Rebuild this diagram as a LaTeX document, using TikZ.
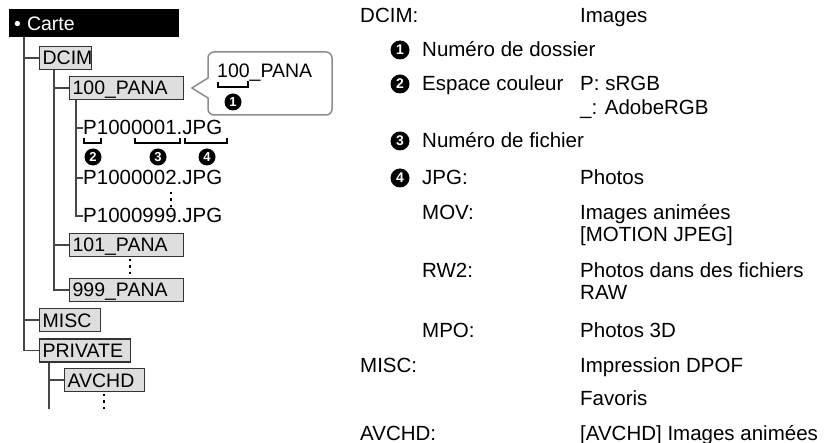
\documentclass[tikz,border=0pt]{standalone}
\usepackage{fontspec}
\setmainfont{Liberation Sans}
\newcommand\bxtext[2]{\makebox[#1][l]{\hspace{3pt}#2}}
\begin{document}
\begin{tikzpicture}[x=1pt,y=-1pt,
  tline/.style={draw=black!72, line width=1.4pt},
  fbox/.style={draw=black!80, fill=black!13, line width=1.2pt, inner sep=0pt,
    minimum height=23pt, anchor=west, text height=14pt, text depth=0pt,
    font=\fontsize{19.5}{20}\selectfont},
  ftxt/.style={anchor=base west, inner sep=0pt, font=\fontsize{20.5}{22}\selectfont},
  ctxt/.style={anchor=base west, inner sep=0pt, font=\fontsize{19.5}{20}\selectfont},
  rt/.style={anchor=base west, inner sep=0pt, font=\fontsize{20.5}{22}\selectfont},
  brk/.style={draw=black, line width=1.5pt},
  numS/.style={circle, fill=black, text=white, inner sep=0pt, minimum size=17pt,
    font=\bfseries\fontsize{13}{13}\selectfont},
  numL/.style={circle, fill=black, text=white, inner sep=0pt, minimum size=19pt,
    font=\bfseries\fontsize{14}{14}\selectfont},
  callout/.style={draw=black!45, fill=white, line width=1.5pt},
  dotsq/.style={fill=black}
]
\useasboundingbox (0,0) rectangle (829,443);

% ---------- tree ----------
\node[fill=black, text=white, inner sep=0pt, minimum height=28pt, anchor=north west,
  font=\fontsize{19.5}{20}\selectfont, text height=14pt, text depth=0pt] (carte) at (9,9)
  {\makebox[170pt][l]{\hspace{5pt}•\hspace{6pt}Carte}};

\node[fbox] (dcim)  at (39,58)    {\bxtext{52pt}{DCIM}};
\node[fbox] (p100)  at (69,88)    {\bxtext{114pt}{100\_PANA}};
\node[ftxt] (f1)    at (83,135)   {P1000001.JPG};
\node[ftxt] (f2)    at (83,185)   {P1000002.JPG};
\node[ftxt] (f3)    at (83,223)   {P1000999.JPG};
\node[fbox] (p101)  at (69,245)   {\bxtext{114pt}{101\_PANA}};
\node[fbox] (p999)  at (69,290)   {\bxtext{114pt}{999\_PANA}};
\node[fbox] (misc)  at (39,320)   {\bxtext{61pt}{MISC}};
\node[fbox] (priv)  at (39,350.5) {\bxtext{91pt}{PRIVATE}};
\node[fbox] (avchd) at (64,380)   {\bxtext{80pt}{AVCHD}};

\coordinate (t1) at (24,0);
\coordinate (t2) at (54,0);
\coordinate (t3) at (76,0);
\coordinate (pend) at (49,409);

\draw[tline] (carte.south -| t1) |- (priv.west);
\draw[tline] (t1 |- dcim.west) -- (dcim.west);
\draw[tline] (t1 |- misc.west) -- (misc.west);
\draw[tline] (dcim.south -| t2) |- (p999.west);
\draw[tline] (t2 |- p100.west) -- (p100.west);
\draw[tline] (t2 |- p101.west) -- (p101.west);
\draw[tline] (p100.south -| t3) |- (f3.west);
\draw[tline] (t3 |- f1.west) -- (f1.west);
\draw[tline] (t3 |- f2.west) -- (f2.west);
\draw[tline] (priv.south -| pend) -- (pend);
\draw[tline] (pend |- avchd.west) -- (avchd.west);

% dots
\foreach \x/\y in {171/193, 171/199.5, 171/206, 130/260, 130/266.5, 130/273, 104/395, 104/401.5, 104/408}
  \fill[dotsq] (\x-1.3,\y-1.3) rectangle (\x+1.3,\y+1.3);

% brackets under P1000001.JPG
\draw[brk] (84,138) -- (84,143) -- (101,143) -- (101,138);
\draw[brk] (135,138) -- (135,143) -- (180,143) -- (180,138);
\draw[brk] (185,138) -- (185,143) -- (227,143) -- (227,138);
\node[numS] (c2) at (93,157) {2};
\node[numS] (c3) at (158,157) {3};
\node[numS] (c4) at (207,157) {4};

% callout
\draw[callout] (208,98) -- (192,88) -- (208,78)
  {[rounded corners=6pt] -- (208,52) -- (332,52) -- (332,115) -- (208,115)} -- cycle;
\node[ctxt] (cp) at (217,78) {100\_PANA};
\draw[brk] (218,82) -- (218,87) -- (248,87) -- (248,81);
\node[numS] (c1) at (233,102) {1};

% ---------- right column ----------
\node[rt] (r1) at (360,22.7) {DCIM:};
\node[rt] (r1b) at (580,22.7) {Images};
\node[numL] (n1) at (400,50) {1};
\node[rt] (r2) at (422,57) {Numéro de dossier};
\node[numL] (n2) at (400,84) {2};
\node[rt] (r3) at (422,91) {Espace couleur};
\node[rt] (r3b) at (580,91) {P: sRGB};
\node[rt] (r3c) at (580,114.5) {\_: AdobeRGB};
\node[numL] (n3) at (400,141) {3};
\node[rt] (r4) at (422,148) {Numéro de fichier};
\node[numL] (n4) at (400,178) {4};
\node[rt] (r5) at (422,185) {JPG:};
\node[rt] (r5b) at (580,185) {Photos};
\node[rt] (r6) at (422,220) {MOV:};
\node[rt] (r6b) at (580,220) {Images animées};
\node[rt] (r6c) at (580,242) {[MOTION JPEG]};
\node[rt] (r7) at (422,278) {RW2:};
\node[rt] (r7b) at (580,278) {Photos dans des fichiers};
\node[rt] (r7c) at (580,300) {RAW};
\node[rt] (r8) at (422,337) {MPO:};
\node[rt] (r8b) at (580,337) {Photos 3D};
\node[rt] (r9) at (360,372) {MISC:};
\node[rt] (r9b) at (580,372) {Impression DPOF};
\node[rt] (r10) at (580,405) {Favoris};
\node[rt] (r11) at (360,440) {AVCHD:};
\node[rt] (r11b) at (580,440) {[AVCHD] Images animées};
\end{tikzpicture}
\end{document}
